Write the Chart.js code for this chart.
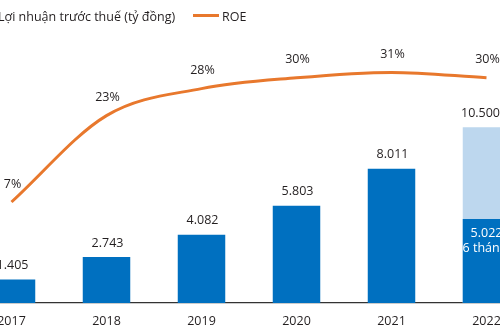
<!DOCTYPE html>
<html>
<head>
<meta charset="utf-8">
<script src="https://cdn.jsdelivr.net/npm/chart.js@4"></script>
<style>
    html, body { margin: 0; padding: 0; background: #fff; }
    body { width: 500px; height: 333px; overflow: hidden; position: relative; font-family: "Open Sans", sans-serif; color: #231f20; }
    #wrap { position: absolute; left: -36px; top: 0; width: 570px; height: 333px; }
    .legend { position: absolute; top: 8px; font-size: 12.5px; line-height: 18px; white-space: nowrap; }
    .legend .box { display: inline-block; width: 11px; height: 11px; background: #0070c0; margin-right: 5px; vertical-align: -1px; }
    .legend .line { display: inline-block; width: 26px; height: 3px; background: #e8782d; margin-right: 3px; vertical-align: 4px; }
</style>
</head>
<body>
<div id="wrap"><canvas id="chart" width="570" height="333"></canvas></div>
<div class="legend" style="left:-18px"><span class="box"></span>Lợi nhuận trước thuế (tỷ đồng)</div>
<div class="legend" style="left:193px"><span class="line"></span>ROE</div>
<script>
// Pre-tax profit (billion VND) and ROE by year
const years = ['2017', '2018', '2019', '2020', '2021', '2022'];
const profit = [1405, 2743, 4082, 5803, 8011, 5022];
const profitPlan = [null, null, null, null, null, 10500];
const roe = [7, 23, 28, 30, 31, 30];
const profitNotes = [null, null, null, null, null, '6 tháng'];

const BLUE = '#0070c0';
const LIGHT_BLUE = '#bdd7ee';
const ORANGE = '#e8782d';
const TEXT = '#231f20';
const FONT = '"Open Sans", sans-serif';
const FONT_SIZE = 12.5;

// vietnamese number format: 1.405, 10.500
const fmt = (v) => v.toLocaleString('de-DE');

// value labels for bars and the ROE line
const valueLabels = {
    id: 'valueLabels',
    afterDatasetsDraw(chart) {
        const { ctx } = chart;
        ctx.save();
        ctx.font = FONT_SIZE + 'px ' + FONT;
        ctx.textAlign = 'center';
        ctx.textBaseline = 'middle';

        // actual profit bars
        chart.getDatasetMeta(1).data.forEach((bar, i) => {
            if (profit[i] == null) return;
            if (profitPlan[i] != null) {
                // half-year figure sits inside the bar
                ctx.fillStyle = '#fff';
                ctx.fillText(fmt(profit[i]), bar.x, bar.y + 15);
                ctx.fillText(profitNotes[i], bar.x - 2, bar.y + 30);
            } else {
                ctx.fillStyle = TEXT;
                ctx.fillText(fmt(profit[i]), bar.x + 1, bar.y - 14);
            }
        });

        // plan bar
        chart.getDatasetMeta(2).data.forEach((bar, i) => {
            if (profitPlan[i] == null) return;
            ctx.fillStyle = TEXT;
            ctx.fillText(fmt(profitPlan[i]), bar.x - 6, bar.y - 14);
        });

        // ROE points
        chart.getDatasetMeta(0).data.forEach((pt, i) => {
            ctx.fillStyle = TEXT;
            ctx.fillText(roe[i] + '%', pt.x + 1, pt.y - 18);
        });
        ctx.restore();
    }
};

new Chart(document.getElementById('chart'), {
    data: {
        labels: years,
        datasets: [{
            type: 'line',
            label: 'ROE',
            data: roe,
            yAxisID: 'y2',
            borderColor: ORANGE,
            borderWidth: 3,
            pointRadius: 0,
            cubicInterpolationMode: 'monotone',
            order: 0
        }, {
            type: 'bar',
            label: 'Lợi nhuận trước thuế (tỷ đồng)',
            data: profit,
            yAxisID: 'y',
            backgroundColor: BLUE,
            grouped: false,
            categoryPercentage: 1,
            barPercentage: 0.5,
            order: 1
        }, {
            type: 'bar',
            label: 'Kế hoạch',
            data: profitPlan,
            yAxisID: 'y',
            backgroundColor: LIGHT_BLUE,
            grouped: false,
            categoryPercentage: 1,
            barPercentage: 0.5,
            order: 2
        }]
    },
    options: {
        responsive: false,
        animation: false,
        layout: { padding: { top: 30, left: 0, right: 0, bottom: 0 } },
        plugins: {
            legend: { display: false },
            tooltip: { enabled: false }
        },
        scales: {
            x: {
                grid: { display: false, drawTicks: false },
                border: { display: true, color: '#333', width: 1.2 },
                ticks: { color: TEXT, font: { family: FONT, size: FONT_SIZE }, padding: 11 },
                afterFit: (scale) => { scale.height = 30; }
            },
            y: {
                display: false,
                min: 0,
                max: 16300
            },
            y2: {
                display: false,
                position: 'right',
                min: -11.7,
                max: 38.85
            }
        }
    },
    plugins: [valueLabels]
});
</script>
</body>
</html>
